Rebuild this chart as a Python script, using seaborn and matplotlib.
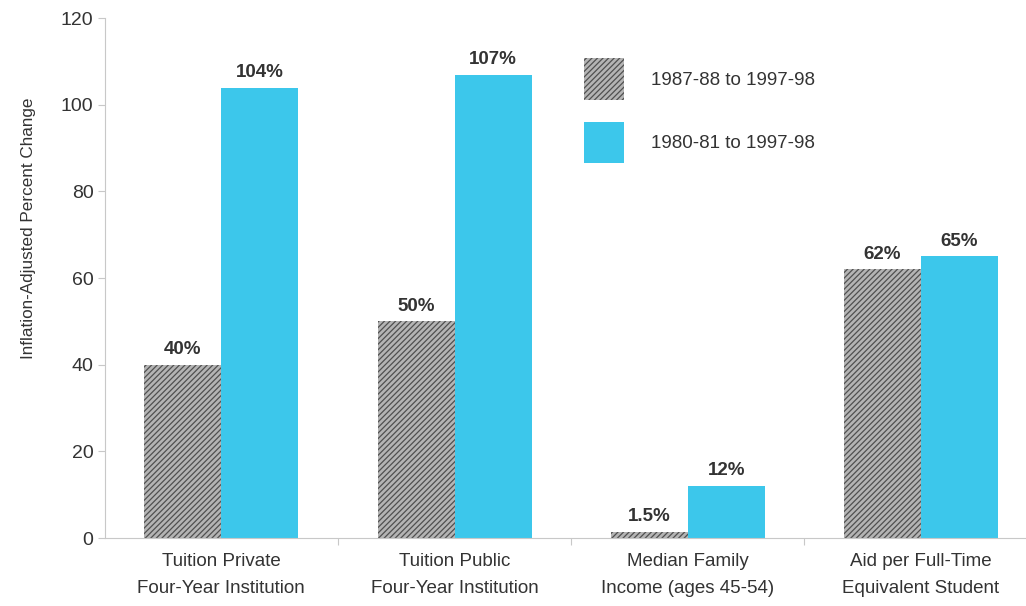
import matplotlib
matplotlib.use("Agg")
import matplotlib.pyplot as plt
import seaborn as sns
import pandas as pd
from matplotlib.patches import Patch

# -----------------------------
# DATA
# -----------------------------
categories = [
    "Tuition Private\nFour-Year Institution",
    "Tuition Public\nFour-Year Institution",
    "Median Family\nIncome (ages 45-54)",
    "Aid per Full-Time\nEquivalent Student",
]
periods = ["1987-88 to 1997-98", "1980-81 to 1997-98"]
change_10yr = [40, 50, 1.5, 62]
change_17yr = [104, 107, 12, 65]
labels_10yr = ["40%", "50%", "1.5%", "62%"]
labels_17yr = ["104%", "107%", "12%", "65%"]

df = pd.DataFrame({
    "category": categories * 2,
    "period": [periods[0]] * 4 + [periods[1]] * 4,
    "value": change_10yr + change_17yr,
})

# -----------------------------
# STYLE
# -----------------------------
sns.set_style("white")
plt.rcParams["font.family"] = ["Liberation Sans", "DejaVu Sans"]
plt.rcParams["hatch.linewidth"] = 0.9

gray = "#b4b4b4"
cyan = "#3cc7eb"
hatch_col = "#505050"
text_col = "#333333"
axis_col = "#c8c8c8"
fs = 13.5

fig = plt.figure(figsize=(10.26, 6.06), dpi=100)
ax = fig.add_axes([0.102, 0.112, 0.898, 0.858])

sns.barplot(data=df, x="category", y="value", hue="period",
            palette=[gray, cyan], width=0.66, saturation=1,
            ax=ax, legend=False)

# hatch the gray series
for bar in ax.containers[0]:
    bar.set_hatch("//////")
    bar.set_edgecolor(hatch_col)
    bar.set_linewidth(0)
for bar in ax.containers[1]:
    bar.set_linewidth(0)

ax.bar_label(ax.containers[0], labels=labels_10yr, padding=5,
             fontsize=fs, fontweight="bold", color=text_col)
ax.bar_label(ax.containers[1], labels=labels_17yr, padding=5,
             fontsize=fs, fontweight="bold", color=text_col)

# -----------------------------
# AXES
# -----------------------------
ax.set_ylim(0, 120)
ax.set_xlim(-0.5, 3.45)
ax.set_yticks([0, 20, 40, 60, 80, 100, 120])
ax.set_xticks(range(len(categories)))
ax.set_xticklabels(categories, linespacing=1.7)
ax.set_xlabel("")
ax.set_ylabel("Inflation-Adjusted Percent Change", fontsize=12.3,
              color=text_col)
ax.yaxis.set_label_coords(-0.075, 0.596)

ax.tick_params(axis="y", labelsize=14, labelcolor=text_col, color=axis_col,
               length=5, width=0.8, left=True, pad=3)
ax.tick_params(axis="x", which="major", labelsize=fs, labelcolor=text_col,
               length=0, pad=11)
ax.set_xticks([0.5, 1.5, 2.5], minor=True)
ax.tick_params(axis="x", which="minor", bottom=True, length=5,
               color=axis_col, width=0.8)

sns.despine(ax=ax, top=True, right=True)
ax.spines["left"].set_color(axis_col)
ax.spines["bottom"].set_color(axis_col)
ax.spines["left"].set_linewidth(0.8)
ax.spines["bottom"].set_linewidth(0.8)

# -----------------------------
# LEGEND
# -----------------------------
handles = [
    Patch(facecolor=gray, edgecolor=hatch_col, hatch="//////", linewidth=0),
    Patch(facecolor=cyan, linewidth=0),
]
ax.legend(handles, periods, loc="upper left", bbox_to_anchor=(0.502, 0.955),
          frameon=False, fontsize=fs, handlelength=2.13, handleheight=3.0,
          labelspacing=1.2, handletextpad=1.45, labelcolor=text_col)

fig.savefig("out.png", dpi=100)
